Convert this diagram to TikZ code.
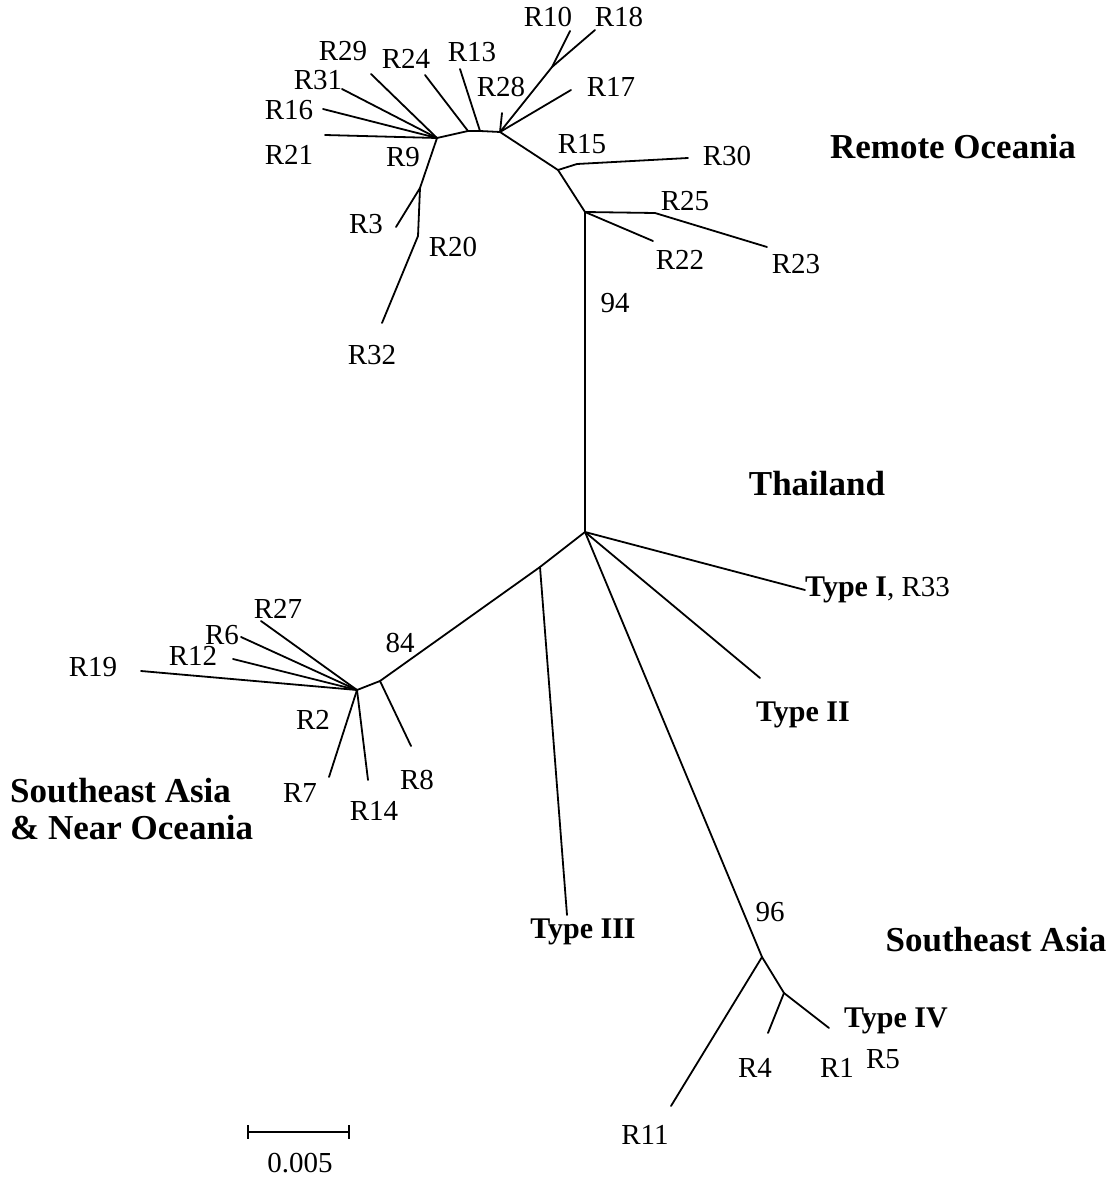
\documentclass[tikz,border=0pt]{standalone}
\usepackage{fontspec}
\setmainfont{Liberation Serif}
\begin{document}
\begin{tikzpicture}[x=1pt,y=-1pt,
  br/.style={line width=1.8pt, line cap=round, line join=round},
  lab/.style={font=\fontsize{29}{30}\selectfont, inner sep=0pt},
  typ/.style={font=\fontsize{30}{32}\selectfont\bfseries, inner sep=0pt},
  reg/.style={font=\fontsize{35}{37}\selectfont\bfseries, inner sep=0pt}]
\useasboundingbox (0,0) rectangle (1117,1177);
% ---- Remote Oceania cluster ----
\coordinate (A) at (437,138);
\coordinate (B) at (468,131);
\coordinate (B2) at (480,131);
\coordinate (C) at (500,132);
\coordinate (D) at (558,170);
\coordinate (Dk) at (577,164);
\coordinate (E) at (585,212);
\coordinate (F) at (420,188);
\coordinate (G) at (418,236);
\coordinate (root) at (585,532);
\coordinate (l21) at (325,135);
\coordinate (l16) at (323,109);
\coordinate (l31) at (342,89);
\coordinate (l29) at (371,74);
\coordinate (l24) at (425,75);
\coordinate (l13) at (460,69);
\coordinate (l28) at (502,113);
\coordinate (m1018) at (552,67);
\coordinate (l10) at (570,31);
\coordinate (l18) at (595,30);
\coordinate (l17) at (571,90);
\coordinate (l30) at (688,158);
\coordinate (n25) at (655,213);
\coordinate (l23) at (767,247);
\coordinate (l22) at (653,241);
\coordinate (l3) at (396,227);
\coordinate (l32) at (382,323);
% ---- lower part ----
\coordinate (H) at (540,567);
\coordinate (l3t) at (567,915);
\coordinate (l1) at (805,590);
\coordinate (l2) at (760,678);
\coordinate (I) at (380,681);
\coordinate (K) at (357,690);
\coordinate (l8) at (411,746);
\coordinate (l19) at (141,671);
\coordinate (l12) at (233,659);
\coordinate (l6) at (241,637);
\coordinate (l27) at (261,621);
\coordinate (l7) at (329,777);
\coordinate (l14) at (368,780);
\coordinate (J) at (762,957);
\coordinate (L) at (784,993);
\coordinate (l11) at (671,1106);
\coordinate (l4) at (768,1033);
\coordinate (l4t) at (829,1028);
% ---- branches ----
\draw[br] (l21) -- (A);
\draw[br] (l16) -- (A);
\draw[br] (l31) -- (A);
\draw[br] (l29) -- (A);
\draw[br] (A) -- (B) -- (B2) -- (C) -- (D) -- (E) -- (root);
\draw[br] (l24) -- (B);
\draw[br] (l13) -- (B2);
\draw[br] (l28) -- (C);
\draw[br] (C) -- (m1018) -- (l10);
\draw[br] (m1018) -- (l18);
\draw[br] (C) -- (l17);
\draw[br] (D) -- (Dk) -- (l30);
\draw[br] (E) -- (n25) -- (l23);
\draw[br] (E) -- (l22);
\draw[br] (A) -- (F) -- (G) -- (l32);
\draw[br] (F) -- (l3);
\draw[br] (root) -- (H) -- (I) -- (K);
\draw[br] (H) -- (l3t);
\draw[br] (root) -- (l1);
\draw[br] (root) -- (l2);
\draw[br] (root) -- (J) -- (L) -- (l4t);
\draw[br] (L) -- (l4);
\draw[br] (J) -- (l11);
\draw[br] (I) -- (l8);
\draw[br] (K) -- (l19);
\draw[br] (K) -- (l12);
\draw[br] (K) -- (l6);
\draw[br] (K) -- (l27);
\draw[br] (K) -- (l7);
\draw[br] (K) -- (l14);
% ---- labels ----
\node[lab] (tR10) at (548,17) {R10};
\node[lab] (tR18) at (619,17) {R18};
\node[lab] (tR29) at (343,51) {R29};
\node[lab] (tR24) at (406,59) {R24};
\node[lab] (tR13) at (472,52) {R13};
\node[lab] (tR28) at (501,87) {R28};
\node[lab] (tR17) at (611,87) {R17};
\node[lab] (tR31) at (318,80) {R31};
\node[lab] (tR16) at (289,110) {R16};
\node[lab] (tR21) at (289,155) {R21};
\node[lab] (tR9) at (403,157) {R9};
\node[lab] (tR15) at (582,144) {R15};
\node[lab] (tR30) at (727,156) {R30};
\node[lab] (tR25) at (685,201) {R25};
\node[lab] (tR22) at (680,260) {R22};
\node[lab] (tR23) at (796,264) {R23};
\node[lab] (tR3) at (366,224) {R3};
\node[lab] (tR20) at (453,247) {R20};
\node[lab] (tR32) at (372,355) {R32};
\node[lab] (t94) at (615,303) {94};
\node[lab] (t84) at (400,643) {84};
\node[lab] (t96) at (770,912) {96};
\node[lab] (tR19) at (93,667) {R19};
\node[lab] (tR12) at (193,656) {R12};
\node[lab] (tR6) at (222,635) {R6};
\node[lab] (tR27) at (278,609) {R27};
\node[lab] (tR2) at (313,720) {R2};
\node[lab] (tR7) at (300,793) {R7};
\node[lab] (tR14) at (374,811) {R14};
\node[lab] (tR8) at (417,780) {R8};
\node[lab] (tR4) at (755,1068) {R4};
\node[lab] (tR1) at (837,1068) {R1};
\node[lab] (tR5) at (883,1059) {R5};
\node[lab] (tR11) at (645,1135) {R11};
\node[lab, anchor=west] (tT1) at (805,590) {\textbf{\fontsize{30}{32}\selectfont Type I}, R33};
\node[typ] (tT2) at (803,715) {Type II};
\node[typ] (tT3) at (583,932) {Type III};
\node[typ] (tT4) at (896,1021) {Type IV};
\node[reg] (gRO) at (953,147) {Remote Oceania};
\node[reg] (gTH) at (817,484) {Thailand};
\node[reg] (gSA) at (996,940) {Southeast Asia};
\node[reg, anchor=west, align=left] (gSN) at (10,809) {Southeast Asia\\\& Near Oceania};
% ---- scale bar ----
\coordinate (s1) at (248,1132);
\coordinate (s2) at (349,1132);
\coordinate (s1t) at (248,1125);
\coordinate (s1b) at (248,1139);
\coordinate (s2t) at (349,1125);
\coordinate (s2b) at (349,1139);
\draw[br, line cap=butt] (s1) -- (s2);
\draw[line width=1.6pt] (s1t) -- (s1b);
\draw[line width=1.6pt] (s2t) -- (s2b);
\node[lab] (tsc) at (300,1163) {0.005};
\end{tikzpicture}
\end{document}
